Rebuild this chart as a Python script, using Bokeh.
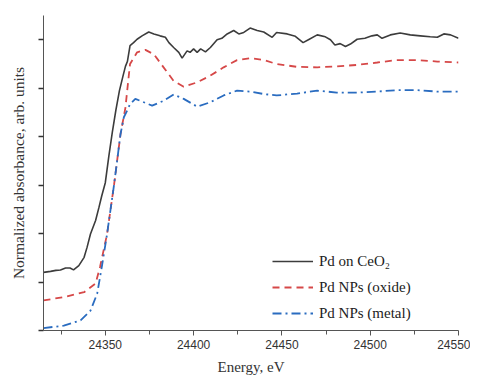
from bokeh.plotting import figure
from bokeh.models import Legend, LegendItem, FixedTicker, CustomJSTickFormatter
from bokeh.embed import file_html
from bokeh.resources import INLINE

# --- data ---
pd_ceo2_e = [24315, 24319, 24322, 24324.6, 24327.5, 24330, 24332, 24335, 24338, 24339.7,
             24341.6, 24344.5, 24346.4, 24348, 24350, 24352, 24354, 24356, 24358, 24360,
             24361.4, 24362.5, 24364, 24366, 24368, 24370.8, 24374.6, 24377.5, 24381, 24384,
             24386, 24388.7, 24391.6, 24393.5, 24396.3, 24398, 24400, 24402, 24404, 24406.7,
             24409.5, 24413.3, 24416, 24419, 24422.7, 24425.6, 24428.4, 24432, 24436, 24439.7,
             24444.5, 24447, 24453, 24457.6, 24462, 24465, 24470, 24474.6, 24477.5, 24480,
             24483, 24486, 24488.8, 24492.6, 24497, 24501, 24504, 24506.7, 24511.4, 24517,
             24522.7, 24528.4, 24534, 24538, 24541.7, 24545.5, 24550]
pd_ceo2_v = [1.20, 1.22, 1.24, 1.25, 1.29, 1.29, 1.25, 1.34, 1.51, 1.72,
             1.99, 2.27, 2.54, 2.78, 3.05, 3.6, 4.1, 4.55, 4.95, 5.25,
             5.45, 5.55, 5.88, 5.94, 6.01, 6.08, 6.16, 6.12, 6.08, 6.05,
             5.94, 5.84, 5.74, 5.62, 5.77, 5.74, 5.81, 5.74, 5.81, 5.75,
             5.84, 6.00, 6.03, 6.12, 6.19, 6.12, 6.15, 6.24, 6.19, 6.16,
             6.05, 6.15, 6.12, 6.07, 5.94, 6.00, 6.10, 6.06, 6.00, 5.89,
             5.92, 5.86, 5.91, 6.01, 6.03, 6.08, 6.10, 6.03, 6.10, 6.14,
             6.10, 6.08, 6.06, 6.05, 6.12, 6.10, 6.03]

oxide_e = [24315, 24326.5, 24338, 24344.5, 24347, 24351, 24355, 24358.6, 24361.4, 24362.4,
           24364, 24368, 24372.7, 24377.5, 24383, 24388.7, 24394.4, 24402, 24409.5, 24417,
           24424.6, 24432, 24439.7, 24447, 24458.6, 24470, 24481, 24492.6, 24504, 24515,
           24526.5, 24538, 24550]
oxide_v = [0.62, 0.69, 0.79, 0.97, 1.31, 1.99, 3.02, 4.05, 4.60, 4.95,
           5.50, 5.74, 5.79, 5.70, 5.43, 5.15, 5.03, 5.12, 5.26, 5.43,
           5.58, 5.62, 5.58, 5.50, 5.44, 5.43, 5.45, 5.48, 5.53, 5.58,
           5.58, 5.55, 5.53]

metal_e = [24315, 24326.5, 24336, 24341.6, 24345.4, 24348, 24351, 24355, 24358.6, 24360.5,
           24362.4, 24364, 24367, 24371.8, 24376.5, 24383, 24388.7, 24394.4, 24402, 24409.5,
           24417, 24424.6, 24432, 24439.7, 24447, 24458.6, 24470, 24481, 24492.6, 24504,
           24515, 24526.5, 24538, 24550]
metal_v = [0.05, 0.10, 0.21, 0.41, 0.76, 1.31, 1.99, 3.02, 4.05, 4.40,
           4.54, 4.67, 4.78, 4.71, 4.64, 4.74, 4.87, 4.78, 4.62, 4.71,
           4.85, 4.95, 4.93, 4.88, 4.85, 4.89, 4.95, 4.91, 4.91, 4.93,
           4.96, 4.96, 4.93, 4.93]

x_ticks = [24350, 24400, 24450, 24500, 24550]
x_minor = [24325, 24375, 24425, 24475, 24525]
y_ticks = [0, 1, 2, 3, 4, 5, 6]

labels = ["Pd on CeO\u2082", "Pd NPs (oxide)", "Pd NPs (metal)"]

p = figure(frame_width=415, frame_height=315,
           x_range=(24315, 24550), y_range=(0, 6.5),
           output_backend="svg", toolbar_location=None,
           min_border_left=43, min_border_right=12, min_border_top=15, min_border_bottom=30)
p.background_fill_color = "white"
p.border_fill_color = "white"
p.outline_line_color = None
p.grid.visible = False

r1 = p.line(pd_ceo2_e, pd_ceo2_v, line_color="#3c3c3c", line_width=1.6)
r2 = p.line(oxide_e, oxide_v, line_color="#d64848", line_width=1.8, line_dash="7 5")
r3 = p.line(metal_e, metal_v, line_color="#2a6cc0", line_width=1.8, line_dash="9 4 2 4")

# x axis
xa = p.xaxis[0]
xa.ticker = FixedTicker(ticks=x_ticks, minor_ticks=x_minor)
xa.axis_line_color = "#555555"
xa.major_tick_line_color = "#555555"
xa.minor_tick_line_color = "#555555"
xa.major_tick_in = 0
xa.major_tick_out = 5
xa.minor_tick_in = 0
xa.minor_tick_out = 4
xa.major_label_text_font = "Liberation Sans"
xa.major_label_text_font_size = "12px"
xa.major_label_text_color = "#333333"
xa.major_label_standoff = 4
xa.axis_label = "Energy, eV"
xa.axis_label_text_font = "Liberation Serif"
xa.axis_label_text_font_style = "normal"
xa.axis_label_text_font_size = "15px"
xa.axis_label_text_color = "#333333"
xa.axis_label_standoff = 7

# y axis (ticks without labels)
ya = p.yaxis[0]
ya.ticker = FixedTicker(ticks=y_ticks, minor_ticks=[])
ya.formatter = CustomJSTickFormatter(code="return ''")
ya.axis_line_color = "#555555"
ya.major_tick_line_color = "#333333"
ya.major_tick_line_width = 1.3
ya.major_tick_in = 0
ya.major_tick_out = 5
ya.major_label_standoff = 0
ya.axis_label = "Normalized absorbance, arb. units"
ya.axis_label_text_font = "Liberation Serif"
ya.axis_label_text_font_style = "normal"
ya.axis_label_text_font_size = "15.5px"
ya.axis_label_text_color = "#333333"
ya.axis_label_standoff = 12

legend = Legend(items=[LegendItem(label=labels[0], renderers=[r1]),
                       LegendItem(label=labels[1], renderers=[r2]),
                       LegendItem(label=labels[2], renderers=[r3])],
                location=(229, 8))
legend.background_fill_alpha = 0
legend.border_line_color = None
legend.padding = 0
legend.margin = 0
legend.spacing = 8
legend.glyph_width = 41
legend.glyph_height = 18
legend.label_height = 18
legend.label_standoff = 6
legend.label_text_font = "Liberation Serif"
legend.label_text_font_size = "15px"
legend.label_text_color = "#222222"
p.add_layout(legend, "center")

open("out.html", "w").write(file_html(p, INLINE))
